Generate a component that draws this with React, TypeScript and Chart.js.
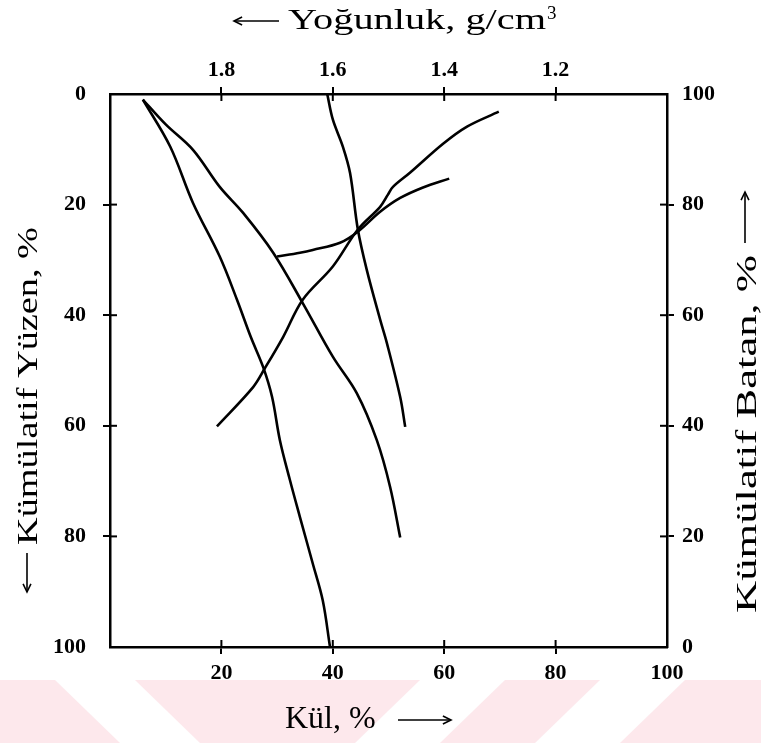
import React, { useEffect, useRef } from "react";
import { Chart, registerables } from "chart.js";

Chart.register(...registerables);

// ---- axis tick values ----
const ashTickLabels = [20, 40, 60, 80, 100];
const densityTickLabels = [1.8, 1.6, 1.4, 1.2];
const yieldTickMarks = [20, 40, 60, 80];

// ---- curve data ----
// Cumulative float (Kümülatif Yüzen) vs ash
const floatAsh = [5.9, 10.8, 14.9, 19.7, 22.8, 25.3, 27.5, 29.1, 30.5, 32.3, 34.1, 36.4, 38.2, 39.5];
const floatYield = [1.0, 9.5, 19.7, 29.4, 37.2, 44.0, 49.4, 54.8, 62.6, 69.8, 76.5, 84.9, 91.6, 100];

// Elementary (primary) ash curve vs float yield
const elemAsh = [5.9, 10.0, 14.9, 19.7, 23.9, 29.3, 34.6, 40.0, 44.3, 47.9, 50.3, 52.1];
const elemYield = [1.0, 5.5, 10.1, 16.8, 21.5, 28.7, 37.8, 47.5, 54.1, 62.6, 71.1, 80.2];

// Density (Yoğunluk) vs float yield
const densityValues = [1.61, 1.6, 1.582, 1.569, 1.555, 1.539, 1.515, 1.503, 1.479, 1.47];
const densityYield = [0, 4.6, 9.5, 14.3, 24.5, 31.8, 40.8, 45.0, 54.8, 60.2];

// Cumulative sink (Kümülatif Batan) vs ash
const sinkAsh = [19.2, 25.7, 27.8, 31.1, 34.6, 40.0, 44.5, 48.5, 49.9, 50.8, 53.9, 59.8, 64.1, 69.8];
const sinkYield = [39.9, 47.0, 50.4, 56.1, 62.8, 68.8, 75.5, 79.6, 81.8, 83.2, 85.8, 91.0, 94.1, 96.8];

// Near-gravity style curve vs float yield
const nearAsh = [30.0, 34.1, 36.4, 41.3, 44.5, 48.5, 52.1, 56.2, 60.9];
const nearYield = [29.4, 28.7, 28.2, 26.9, 24.9, 21.3, 18.8, 16.9, 15.3];

const FONT = "'Liberation Serif', 'Times New Roman', serif";
const W = 761;
const H = 743;

const pts = (xs: number[], ys: number[]) => xs.map((x, i) => ({ x, y: ys[i] }));
const near = (v: number, list: number[]) => list.some((t) => Math.abs(t - v) < 1e-6);

function drawArrow(ctx: CanvasRenderingContext2D, x1: number, y1: number, x2: number, y2: number) {
  // arrow from (x1,y1) to head at (x2,y2)
  const ang = Math.atan2(y2 - y1, x2 - x1);
  ctx.beginPath();
  ctx.moveTo(x1, y1);
  ctx.lineTo(x2, y2);
  ctx.lineWidth = 1.6;
  ctx.stroke();
  ctx.beginPath();
  const hl = 9;
  ctx.moveTo(x2 - hl * Math.cos(ang - 0.45), y2 - hl * Math.sin(ang - 0.45));
  ctx.lineTo(x2, y2);
  ctx.lineTo(x2 - hl * Math.cos(ang + 0.45), y2 - hl * Math.sin(ang + 0.45));
  ctx.lineWidth = 1.6;
  ctx.stroke();
}

function stretchedText(
  ctx: CanvasRenderingContext2D,
  text: string,
  x: number,
  y: number,
  rot: number,
  size: number,
  targetW: number
) {
  ctx.save();
  ctx.font = `${size}px ${FONT}`;
  const w = ctx.measureText(text).width;
  ctx.translate(x, y);
  ctx.rotate(rot);
  ctx.scale(targetW / w, 1);
  ctx.textAlign = "left";
  ctx.textBaseline = "alphabetic";
  ctx.fillText(text, 0, 0);
  ctx.restore();
}

const decorPlugin = {
  id: "decor",
  beforeDraw(chart: any) {
    const ctx = chart.ctx as CanvasRenderingContext2D;
    ctx.save();
    ctx.fillStyle = "#ffffff";
    ctx.fillRect(0, 0, W, H);
    // faint watermark band
    ctx.fillStyle = "#fde8ec";
    ctx.fillRect(0, 680, W, H - 680);
    ctx.fillStyle = "#ffffff";
    const stripes = [
      [[55, 680], [135, 680], [200, 743], [120, 743]],
      [[420, 680], [505, 680], [440, 743], [355, 743]],
      [[600, 680], [685, 680], [620, 743], [535, 743]],
    ];
    stripes.forEach((p) => {
      ctx.beginPath();
      ctx.moveTo(p[0][0], p[0][1]);
      for (let i = 1; i < p.length; i++) ctx.lineTo(p[i][0], p[i][1]);
      ctx.closePath();
      ctx.fill();
    });
    ctx.restore();
  },
  afterDraw(chart: any) {
    const ctx = chart.ctx as CanvasRenderingContext2D;
    const { x, x2, y, y2 } = chart.scales;
    const a = chart.chartArea;
    ctx.save();
    ctx.strokeStyle = "#000";
    ctx.lineWidth = 2;
    const inner = 7;
    // inward tick marks
    ashTickLabels.forEach((v) => {
      if (v >= 100) return;
      const px = x.getPixelForValue(v);
      ctx.beginPath();
      ctx.moveTo(px, a.bottom);
      ctx.lineTo(px, a.bottom - inner);
      ctx.stroke();
    });
    densityTickLabels.forEach((v) => {
      const px = x2.getPixelForValue(v);
      ctx.beginPath();
      ctx.moveTo(px, a.top);
      ctx.lineTo(px, a.top + inner);
      ctx.stroke();
    });
    yieldTickMarks.forEach((v) => {
      const py = y.getPixelForValue(v);
      ctx.beginPath();
      ctx.moveTo(a.left, py);
      ctx.lineTo(a.left + inner, py);
      ctx.stroke();
      const py2 = y2.getPixelForValue(v);
      ctx.beginPath();
      ctx.moveTo(a.right, py2);
      ctx.lineTo(a.right - inner, py2);
      ctx.stroke();
    });

    // axis titles
    ctx.fillStyle = "#000";
    ctx.strokeStyle = "#000";
    // top
    drawArrow(ctx, 279, 21, 234, 21);
    stretchedText(ctx, "Yoğunluk, g/cm", 288, 29, 0, 30, 258);
    ctx.font = `19px ${FONT}`;
    ctx.fillText("3", 547, 19);
    // bottom
    ctx.font = `32px ${FONT}`;
    ctx.fillText("Kül, %", 285, 728);
    drawArrow(ctx, 398, 720, 451, 720);
    // left
    stretchedText(ctx, "Kümülatif Yüzen, %", 37, 545, -Math.PI / 2, 30, 318);
    drawArrow(ctx, 27, 553, 27, 592);
    // right
    stretchedText(ctx, "Kümülatif Batan, %", 756, 613, -Math.PI / 2, 30, 358);
    drawArrow(ctx, 745, 243, 745, 192);
    ctx.restore();
  },
};

export default function App() {
  const ref = useRef<HTMLCanvasElement | null>(null);

  useEffect(() => {
    if (!ref.current) return;
    const line = (data: any[], xAxisID: string, yAxisID: string) => ({
      data,
      xAxisID,
      yAxisID,
      borderColor: "#000",
      borderWidth: 2.6,
      pointRadius: 0,
      tension: 0.35,
      fill: false,
    });
    const tickFont = { family: FONT, size: 22, weight: "bold" as const };
    const gridTicks = (vals: number[]) => ({
      drawOnChartArea: false,
      drawTicks: true,
      tickLength: 7,
      lineWidth: 2,
      color: (c: any) => (c.tick && near(c.tick.value, vals) ? "#000" : "rgba(0,0,0,0)"),
    });
    const chart = new Chart(ref.current, {
      type: "line",
      data: {
        datasets: [
          line(pts(floatAsh, floatYield), "x", "y"),
          line(pts(elemAsh, elemYield), "x", "y"),
          line(pts(densityValues, densityYield), "x2", "y"),
          line(pts(sinkAsh, sinkYield), "x", "y2"),
          line(pts(nearAsh, nearYield), "x", "y"),
        ],
      },
      options: {
        responsive: false,
        animation: false,
        devicePixelRatio: 1,
        parsing: true,
        layout: { padding: 0 },
        plugins: { legend: { display: false }, tooltip: { enabled: false } },
        scales: {
          x: {
            type: "linear",
            position: "bottom",
            min: 0,
            max: 100,
            ticks: {
              stepSize: 20,
              color: "#000",
              font: tickFont,
              padding: 6,
              maxRotation: 0,
              callback: (v: any) => (near(Number(v), ashTickLabels) ? String(v) : ""),
            },
            grid: gridTicks([20, 40, 60, 80]),
            border: { display: true, color: "#000", width: 2.5 },
            afterFit: (s: any) => {
              s.height = 96;
            },
          },
          x2: {
            type: "linear",
            position: "top",
            min: 1.0,
            max: 2.0,
            reverse: true,
            ticks: {
              stepSize: 0.2,
              color: "#000",
              font: tickFont,
              padding: 3,
              maxRotation: 0,
              callback: (v: any) => (near(Number(v), densityTickLabels) ? Number(v).toFixed(1) : ""),
            },
            grid: gridTicks(densityTickLabels),
            border: { display: true, color: "#000", width: 2.5 },
            afterFit: (s: any) => {
              s.height = 94;
            },
          },
          y: {
            type: "linear",
            position: "left",
            min: 0,
            max: 100,
            reverse: true,
            ticks: { stepSize: 20, color: "#000", font: tickFont, padding: 17 },
            grid: gridTicks(yieldTickMarks),
            border: { display: true, color: "#000", width: 2.5 },
            afterFit: (s: any) => {
              s.width = 110;
            },
          },
          y2: {
            type: "linear",
            position: "right",
            min: 0,
            max: 100,
            ticks: { stepSize: 20, color: "#000", font: tickFont, padding: 8 },
            grid: gridTicks(yieldTickMarks),
            border: { display: true, color: "#000", width: 2.5 },
            afterFit: (s: any) => {
              s.width = W - 667;
            },
          },
        },
      },
      plugins: [decorPlugin],
    } as any);
    return () => chart.destroy();
  }, []);

  return (
    <div style={{ position: "fixed", left: 0, top: 0, width: W, height: H, background: "#fff" }}>
      <canvas ref={ref} width={W} height={H} style={{ display: "block", width: W, height: H }} />
    </div>
  );
}
